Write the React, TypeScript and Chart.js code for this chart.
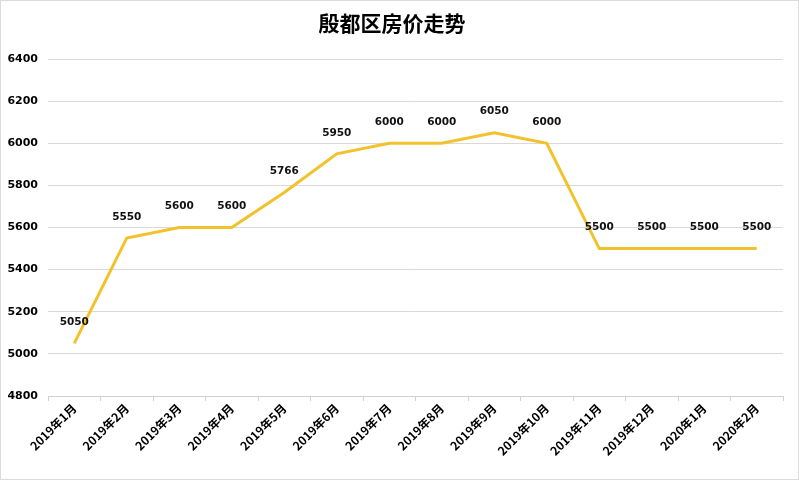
import React, { useEffect, useRef } from "react";
import { Chart, registerables } from "chart.js";

Chart.register(...registerables);

const categories = [
  "2019年1月", "2019年2月", "2019年3月", "2019年4月", "2019年5月", "2019年6月", "2019年7月",
  "2019年8月", "2019年9月", "2019年10月", "2019年11月", "2019年12月", "2020年1月", "2020年2月",
];
const prices = [5050, 5550, 5600, 5600, 5766, 5950, 6000, 6000, 6050, 6000, 5500, 5500, 5500, 5500];
const chartTitle = "殷都区房价走势";
const yMin = 4800;
const yMax = 6400;
const yStep = 200;

const dataLabelPlugin = {
  id: "dataLabels",
  afterDatasetsDraw(chart: any) {
    const ctx = chart.ctx;
    const meta = chart.getDatasetMeta(0);
    ctx.save();
    ctx.font = "bold 10.5px 'DejaVu Sans', sans-serif";
    ctx.fillStyle = "#111";
    ctx.textAlign = "center";
    ctx.textBaseline = "middle";
    meta.data.forEach((pt: any, i: number) => {
      ctx.fillText(String(prices[i]), pt.x, pt.y - 21);
    });
    ctx.restore();
  },
};

export default function App() {
  const ref = useRef<HTMLCanvasElement>(null);
  useEffect(() => {
    if (!ref.current) return;
    const chart = new Chart(ref.current, {
      type: "line",
      data: {
        labels: categories,
        datasets: [
          {
            data: prices,
            borderColor: "#F2C22C",
            borderWidth: 3,
            pointRadius: 0,
            tension: 0,
            fill: false,
          },
        ],
      },
      options: {
        animation: false,
        responsive: false,
        layout: { padding: { left: 0, right: 15, top: 0, bottom: 0 } },
        plugins: {
          legend: { display: false },
          tooltip: { enabled: false },
          title: {
            display: true,
            text: chartTitle,
            color: "#000",
            font: { size: 21, weight: "bold", family: "'Noto Sans CJK SC', sans-serif" },
            padding: { top: 9, bottom: 23.8 },
          },
        },
        scales: {
          x: {
            offset: true,
            grid: {
              display: true,
              drawOnChartArea: false,
              drawTicks: true,
              tickLength: 5,
              color: "#d0d0d0",
              offset: true,
            },
            border: { color: "#d0d0d0" },
            ticks: {
              maxRotation: 45,
              minRotation: 45,
              autoSkip: false,
              color: "#000",
              font: { size: 12, weight: "bold", family: "'Noto Sans CJK SC', 'DejaVu Sans', sans-serif" },
              padding: 0,
            },
            afterFit(scale: any) {
              scale.height = 83;
            },
          },
          y: {
            min: yMin,
            max: yMax,
            grid: { color: "#d9d9d9", drawTicks: false },
            border: { display: false },
            ticks: {
              stepSize: yStep,
              color: "#000",
              padding: 10,
              font: { size: 11, weight: "bold", family: "'DejaVu Sans', sans-serif" },
              callback: (v: any) => String(v),
            },
            afterFit(scale: any) {
              scale.width = 47;
            },
          },
        },
      },
      plugins: [dataLabelPlugin],
    });
    return () => chart.destroy();
  }, []);
  return (
    <div
      style={{
        position: "absolute",
        left: 0,
        top: 0,
        width: 799,
        height: 480,
        boxSizing: "border-box",
        border: "1px solid #dcdcdc",
        background: "#fff",
      }}
    >
      <canvas ref={ref} width={797} height={478} style={{ display: "block" }} />
    </div>
  );
}
